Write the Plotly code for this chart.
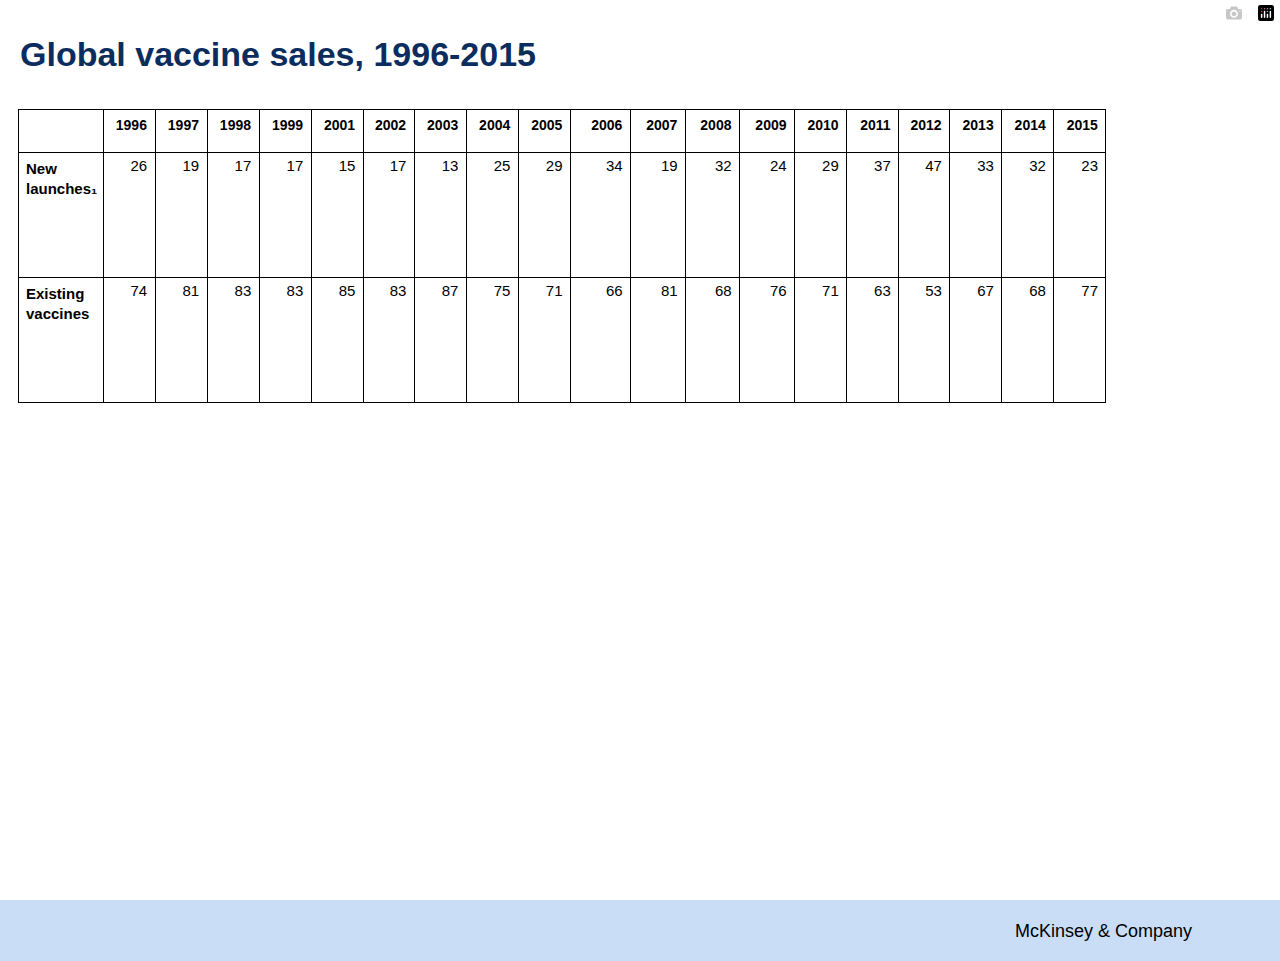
import plotly.graph_objects as go

years = ["1996","1997","1998","1999","2001","2002","2003","2004","2005","2006",
         "2007","2008","2009","2010","2011","2012","2013","2014","2015"]
new_launches = [26,19,17,17,15,17,13,25,29,34,19,32,24,29,37,47,33,32,23]
existing = [74,81,83,83,85,83,87,75,71,66,81,68,76,71,63,53,67,68,77]
row_labels = ["<b>New<br>launches₁</b>", "<b>Existing<br>vaccines</b>"]

edges = [18,103,155,207,259,311,363,414,466,518,570,630,685,739,794,846,898,949,1001,1053,1105]
widths = [edges[i+1]-edges[i] for i in range(len(edges)-1)]

W, H = 1280, 961
font_fam = "Liberation Sans Narrow, Arial Narrow, Liberation Sans, sans-serif"

cells = [row_labels] + [[str(a), str(b)] for a, b in zip(new_launches, existing)]

fig = go.Figure(go.Table(
    columnwidth=widths,
    domain=dict(x=[18/W, 1106/W], y=[0, 1-109/H]),
    header=dict(values=[""] + ["<b>%s</b>" % y for y in years],
                height=43, align=["left"] + ["right"]*19,
                fill_color="white", line=dict(color="black", width=1),
                font=dict(family=font_fam, size=14, color="black")),
    cells=dict(values=cells, height=125, align=["left"] + ["right"]*19,
               fill_color="white", line=dict(color="black", width=1),
               font=dict(family=font_fam, size=15, color="black")),
))

fig.add_shape(type="rect", xref="paper", yref="paper", x0=0, x1=1,
              y0=0, y1=61/H, fillcolor="#c9ddf7", line_width=0, layer="below")
fig.add_annotation(text="McKinsey & Company", xref="paper", yref="paper",
                   x=1013/W, y=30/H, xanchor="left", yanchor="middle", showarrow=False,
                   font=dict(family="Liberation Sans, Arial", size=18, color="black"))
fig.add_annotation(text="<b>Global vaccine sales, 1996-2015</b>", xref="paper", yref="paper",
                   x=18/W, y=1-54/H, xanchor="left", yanchor="middle", showarrow=False,
                   font=dict(family="Liberation Sans, Arial", size=34, color="#0b2d5e"))

fig.update_layout(width=W, height=H, margin=dict(l=0, r=0, t=0, b=0),
                  paper_bgcolor="white", plot_bgcolor="white")
fig.write_html("out.html", post_script="document.body.style.margin='0';")
